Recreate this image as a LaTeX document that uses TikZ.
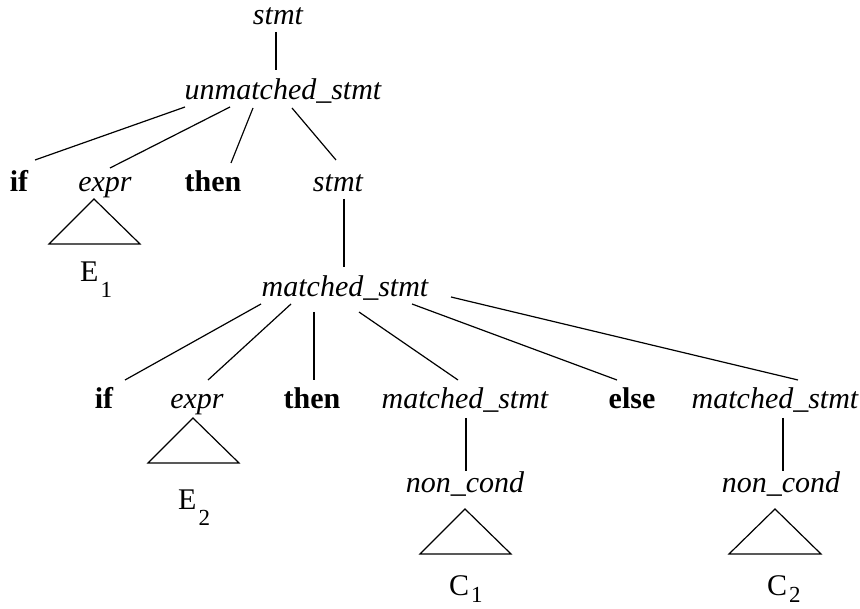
\documentclass[tikz,border=0pt]{standalone}
\usepackage{fontspec}
\setmainfont{Liberation Serif}
\usetikzlibrary{calc}
\newcommand{\subtext}[3][16pt]{#2\hspace{2pt}\raisebox{-#1}{\fontsize{23}{28}\selectfont #3}}
\begin{document}
\begin{tikzpicture}[x=1pt,y=-1pt,
  lbl/.style={inner sep=0pt, anchor=base, font={\fontsize{30}{36}\selectfont}},
  nt/.style={lbl, font={\fontsize{30}{36}\selectfont\itshape}},
  kw/.style={lbl, font={\fontsize{30}{36}\selectfont\bfseries}},
  sublbl/.style={lbl, anchor=base west},
  edge/.style={line width=1.2pt},
  tri/.style={line width=1.2pt, line join=miter},
]
\useasboundingbox (0,0) rectangle (860,609);

% nodes
\node[nt] (s0)  at (278,25)  {stmt};
\node[nt] (um)  at (283,100) {unmatched\_stmt};
\node[kw] (if1) at (19,192)  {if};
\node[nt] (ex1) at (105,192) {expr};
\node[kw] (th1) at (213,192) {then};
\node[nt] (s1)  at (338,192) {stmt};
\node[nt] (ms0) at (345,297) {matched\_stmt};
\node[kw] (if2) at (104,409) {if};
\node[nt] (ex2) at (197,409) {expr};
\node[kw] (th2) at (312,409) {then};
\node[nt] (ms1) at (465,409) {matched\_stmt};
\node[kw] (el)  at (632,409) {else};
\node[nt] (ms2) at (775,409) {matched\_stmt};
\node[nt] (nc1) at (465,493) {non\_cond};
\node[nt] (nc2) at (781,493) {non\_cond};
\node[sublbl] (e1) at (80,282)  {\subtext{E}{1}};
\node[sublbl] (e2) at (178,510) {\subtext{E}{2}};
\node[sublbl] (c1) at (449,595) {\subtext[7pt]{C}{1}};
\node[sublbl] (c2) at (767,595) {\subtext[7pt]{C}{2}};

% connectors
\draw[edge] ($(s0.base)+(-2,7)$)   -- ($(um.base)+(-7,-30)$);
\draw[edge] ($(um.base)+(-98,7)$)  -- ($(if1.base)+(16,-32)$);
\draw[edge] ($(um.base)+(-53,7)$)  -- ($(ex1.base)+(5,-24)$);
\draw[edge] ($(um.base)+(-30,8)$)  -- ($(th1.base)+(18,-29)$);
\draw[edge] ($(um.base)+(9,8)$)    -- ($(s1.base)+(-2,-32)$);
\draw[edge] ($(s1.base)+(6,7)$)    -- ($(ms0.base)+(-1,-30)$);
\draw[edge] ($(ms0.base)+(-84,7)$) -- ($(if2.base)+(21,-29)$);
\draw[edge] ($(ms0.base)+(-54,7)$) -- ($(ex2.base)+(11,-29)$);
\draw[edge] ($(ms0.base)+(-31,15)$) -- ($(th2.base)+(2,-29)$);
\draw[edge] ($(ms0.base)+(14,15)$) -- ($(ms1.base)+(-7,-29)$);
\draw[edge] ($(ms0.base)+(67,7)$)  -- ($(el.base)+(-15,-29)$);
\draw[edge] ($(ms0.base)+(106,0)$) -- ($(ms2.base)+(23,-29)$);
\draw[edge] ($(ms1.base)+(1,9)$)   -- ($(nc1.base)+(1,-22)$);
\draw[edge] ($(ms2.base)+(8,9)$)   -- ($(nc2.base)+(2,-22)$);

% subtree triangles
\draw[tri] ($(ex1.base)+(-11,7)$) -- ($(ex1.base)+(-56,52)$) -- ($(ex1.base)+(35,52)$) -- cycle;
\draw[tri] ($(ex2.base)+(-4,9)$)  -- ($(ex2.base)+(-49,54)$) -- ($(ex2.base)+(42,54)$) -- cycle;
\draw[tri] ($(nc1.base)+(0,16)$)  -- ($(nc1.base)+(-45,61)$) -- ($(nc1.base)+(46,61)$) -- cycle;
\draw[tri] ($(nc2.base)+(-6,16)$) -- ($(nc2.base)+(-52,61)$) -- ($(nc2.base)+(40,61)$) -- cycle;
\end{tikzpicture}
\end{document}
